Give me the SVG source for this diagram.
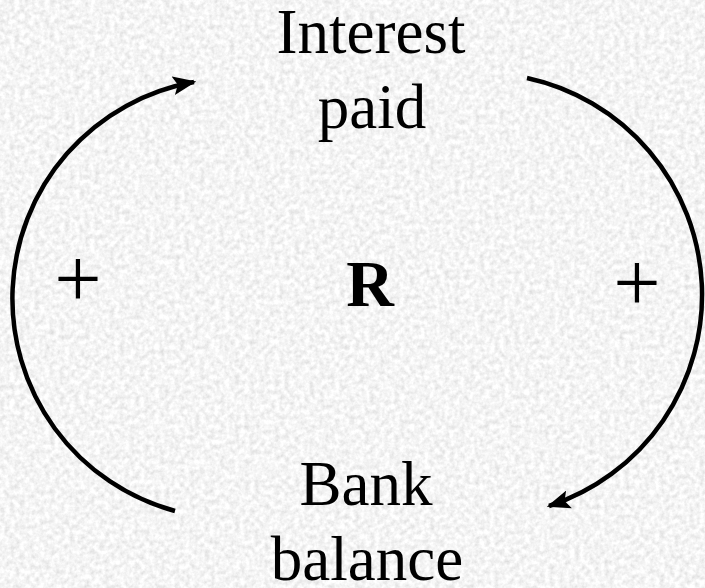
<svg xmlns="http://www.w3.org/2000/svg" width="705" height="588" viewBox="0 0 705 588">
<defs>
<filter id="granite" x="0" y="0" width="100%" height="100%">
<feTurbulence type="fractalNoise" baseFrequency="0.2" numOctaves="3" seed="4" result="n"/>
<feColorMatrix in="n" type="matrix" values="0.45 0.05 0 0 0.66  0.45 0.05 0 0 0.66  0.45 0.05 0 0 0.66  0 0 0 0 1"/>
</filter>
<marker id="arrow" viewBox="0 0 10 8" refX="9" refY="4" markerWidth="5.2" markerHeight="4.2" markerUnits="strokeWidth" orient="auto">
<path d="M0,0 L10,4 L0,8 L2,4 Z" fill="#000"/>
</marker>
<style>
.lbl{font-family:"Liberation Serif","Times New Roman",serif;font-size:63px;fill:#000;text-anchor:middle}
.plus{font-family:"Liberation Serif","Times New Roman",serif;font-size:84px;fill:#000;text-anchor:middle}
.big{font-family:"Liberation Serif","Times New Roman",serif;font-size:66px;font-weight:bold;fill:#000;text-anchor:middle}
.link{fill:none;stroke:#000;stroke-width:4.5}
</style>
</defs>
<rect x="0" y="0" width="705" height="588" fill="#e6e6e6"/>
<rect x="0" y="0" width="705" height="588" filter="url(#granite)"/>
<g id="connectors">
<path class="link" d="M175,511 A220,220 0 0 1 194,82" marker-end="url(#arrow)"/>
<path class="link" d="M527,78 A222,222 0 0 1 549,506" marker-end="url(#arrow)"/>
</g>
<g id="interest-paid">
<text class="lbl" x="371" y="53">Interest</text>
<text class="lbl" x="372" y="128">paid</text>
</g>
<g id="bank-balance">
<text class="lbl" x="366" y="505">Bank</text>
<text class="lbl" x="367" y="580">balance</text>
</g>
<g id="loop">
<text class="big" x="370" y="306">R</text>
<text class="plus" x="78" y="307">+</text>
<text class="plus" x="637" y="311">+</text>
</g>
</svg>
